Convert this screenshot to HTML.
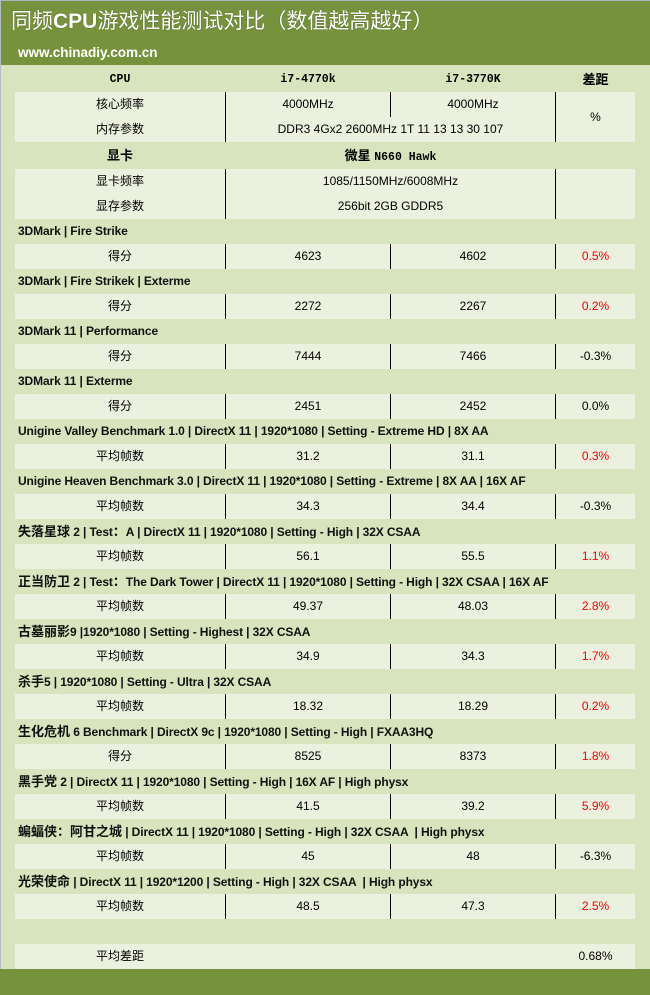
<!DOCTYPE html>
<html><head><meta charset="utf-8">
<style>
*{margin:0;padding:0;box-sizing:border-box}
html,body{width:650px;height:995px;overflow:hidden}
body{position:relative;background:#D7E4BD;font-family:"Liberation Sans","Noto Sans CJK SC",sans-serif;font-size:12px;color:#000}
.g{position:absolute;left:0;width:650px;background:#76923C}
.title{position:absolute;left:11px;top:9px;height:25px;line-height:25px;font-size:21px;color:#fff;white-space:nowrap;text-shadow:0 0 1px #3a4a1c}
.url{position:absolute;left:18px;top:40px;height:25px;line-height:25px;font-size:13.5px;font-weight:bold;color:#fff;white-space:nowrap}
.row{position:absolute;left:15px;width:620px;height:25px;background:#EBF1DE}
.c{position:absolute;top:0;height:25px;line-height:25px;text-align:center;white-space:nowrap}
.c0{left:0;width:210px}
.c1{left:211px;width:164px}
.c2{left:376px;width:164px}
.c3{left:541px;width:79px}
.c12{left:211px;width:329px}
.v{position:absolute;top:0;width:1px;height:25px;background:#000}
.red{color:#FF0000}
.sec{position:absolute;left:18px;height:25px;line-height:25px;font-weight:bold;color:#111;white-space:nowrap;letter-spacing:-0.12px}
.sec .k{font-size:13px;letter-spacing:0}
.hd{position:absolute;height:27px;line-height:27px;text-align:center;font-weight:bold;white-space:nowrap}
.m{font-family:"Liberation Mono",monospace;font-size:11.5px}
.k13{font-size:13px}
</style></head><body>
<div class="g" style="top:0;height:65px"></div>
<div style="position:absolute;left:0;top:0;width:650px;height:1px;background:#a9b2c0"></div>
<div style="position:absolute;left:0;top:0;width:1px;height:995px;background:#b4bcc8"></div>
<div class="title">同频<b>CPU</b>游戏性能测试对比（数值越高越好）</div>
<div class="url">www.chinadiy.com.cn</div>

<!-- header row -->
<div class="hd m" style="top:66px;left:15px;width:210px">CPU</div>
<div class="hd m" style="top:66px;left:226px;width:164px">i7-4770k</div>
<div class="hd m" style="top:66px;left:391px;width:164px">i7-3770K</div>
<div class="hd k13" style="top:66px;left:556px;width:79px">差距</div>

<!-- CPU block -->
<div class="row" style="top:92px;height:50px">
  <div class="c c0">核心频率</div>
  <div class="c c1">4000MHz</div>
  <div class="c c2">4000MHz</div>
  <div class="c c0" style="top:25px">内存参数</div>
  <div class="c c12" style="top:25px">DDR3 4Gx2 2600MHz 1T 11 13 13 30 107</div>
  <div class="c c3" style="height:50px;line-height:50px">%</div>
  <div class="v" style="left:210px;height:50px"></div>
  <div class="v" style="left:375px;height:25px"></div>
  <div class="v" style="left:540px;height:50px"></div>
</div>

<!-- GPU header -->
<div class="hd k13" style="top:142px;left:15px;width:210px">显卡</div>
<div class="hd k13" style="top:142px;left:226px;width:329px">微星 <span class="m">N660 Hawk</span></div>

<!-- GPU block -->
<div class="row" style="top:169px;height:50px">
  <div class="c c0">显卡频率</div>
  <div class="c c12">1085/1150MHz/6008MHz</div>
  <div class="c c0" style="top:25px">显存参数</div>
  <div class="c c12" style="top:25px">256bit 2GB GDDR5</div>
  <div class="v" style="left:210px;height:50px"></div>
  <div class="v" style="left:540px;height:50px"></div>
</div>

<div class="sec" style="top:219px">3DMark | Fire Strike</div>
<div class="row" style="top:244px"><div class="c c0">得分</div><div class="c c1">4623</div><div class="c c2">4602</div><div class="c c3 red">0.5%</div><div class="v" style="left:210px"></div><div class="v" style="left:375px"></div><div class="v" style="left:540px"></div></div>

<div class="sec" style="top:269px">3DMark | Fire Strikek | Exterme</div>
<div class="row" style="top:294px"><div class="c c0">得分</div><div class="c c1">2272</div><div class="c c2">2267</div><div class="c c3 red">0.2%</div><div class="v" style="left:210px"></div><div class="v" style="left:375px"></div><div class="v" style="left:540px"></div></div>

<div class="sec" style="top:319px">3DMark 11 | Performance</div>
<div class="row" style="top:344px"><div class="c c0">得分</div><div class="c c1">7444</div><div class="c c2">7466</div><div class="c c3">-0.3%</div><div class="v" style="left:210px"></div><div class="v" style="left:375px"></div><div class="v" style="left:540px"></div></div>

<div class="sec" style="top:369px">3DMark 11 | Exterme</div>
<div class="row" style="top:394px"><div class="c c0">得分</div><div class="c c1">2451</div><div class="c c2">2452</div><div class="c c3">0.0%</div><div class="v" style="left:210px"></div><div class="v" style="left:375px"></div><div class="v" style="left:540px"></div></div>

<div class="sec" style="top:419px">Unigine Valley Benchmark 1.0 | DirectX 11 | 1920*1080 | Setting - Extreme HD | 8X AA</div>
<div class="row" style="top:444px"><div class="c c0">平均帧数</div><div class="c c1">31.2</div><div class="c c2">31.1</div><div class="c c3 red">0.3%</div><div class="v" style="left:210px"></div><div class="v" style="left:375px"></div><div class="v" style="left:540px"></div></div>

<div class="sec" style="top:469px">Unigine Heaven Benchmark 3.0 | DirectX 11 | 1920*1080 | Setting - Extreme | 8X AA | 16X AF</div>
<div class="row" style="top:494px"><div class="c c0">平均帧数</div><div class="c c1">34.3</div><div class="c c2">34.4</div><div class="c c3">-0.3%</div><div class="v" style="left:210px"></div><div class="v" style="left:375px"></div><div class="v" style="left:540px"></div></div>

<div class="sec" style="top:519px"><span class="k">失落星球</span> 2 | Test<span class="k">：</span>A | DirectX 11 | 1920*1080 | Setting - High | 32X CSAA</div>
<div class="row" style="top:544px"><div class="c c0">平均帧数</div><div class="c c1">56.1</div><div class="c c2">55.5</div><div class="c c3 red">1.1%</div><div class="v" style="left:210px"></div><div class="v" style="left:375px"></div><div class="v" style="left:540px"></div></div>

<div class="sec" style="top:569px"><span class="k">正当防卫</span> 2 | Test<span class="k">：</span>The Dark Tower | DirectX 11 | 1920*1080 | Setting - High | 32X CSAA | 16X AF</div>
<div class="row" style="top:594px"><div class="c c0">平均帧数</div><div class="c c1">49.37</div><div class="c c2">48.03</div><div class="c c3 red">2.8%</div><div class="v" style="left:210px"></div><div class="v" style="left:375px"></div><div class="v" style="left:540px"></div></div>

<div class="sec" style="top:619px"><span class="k">古墓丽影</span>9 |1920*1080 | Setting - Highest | 32X CSAA</div>
<div class="row" style="top:644px"><div class="c c0">平均帧数</div><div class="c c1">34.9</div><div class="c c2">34.3</div><div class="c c3 red">1.7%</div><div class="v" style="left:210px"></div><div class="v" style="left:375px"></div><div class="v" style="left:540px"></div></div>

<div class="sec" style="top:669px"><span class="k">杀手</span>5 | 1920*1080 | Setting - Ultra | 32X CSAA</div>
<div class="row" style="top:694px"><div class="c c0">平均帧数</div><div class="c c1">18.32</div><div class="c c2">18.29</div><div class="c c3 red">0.2%</div><div class="v" style="left:210px"></div><div class="v" style="left:375px"></div><div class="v" style="left:540px"></div></div>

<div class="sec" style="top:719px"><span class="k">生化危机</span> 6 Benchmark | DirectX 9c | 1920*1080 | Setting - High | FXAA3HQ</div>
<div class="row" style="top:744px"><div class="c c0">得分</div><div class="c c1">8525</div><div class="c c2">8373</div><div class="c c3 red">1.8%</div><div class="v" style="left:210px"></div><div class="v" style="left:375px"></div><div class="v" style="left:540px"></div></div>

<div class="sec" style="top:769px"><span class="k">黑手党</span> 2 | DirectX 11 | 1920*1080 | Setting - High | 16X AF | High physx</div>
<div class="row" style="top:794px"><div class="c c0">平均帧数</div><div class="c c1">41.5</div><div class="c c2">39.2</div><div class="c c3 red">5.9%</div><div class="v" style="left:210px"></div><div class="v" style="left:375px"></div><div class="v" style="left:540px"></div></div>

<div class="sec" style="top:819px"><span class="k">蝙蝠侠：阿甘之城</span> | DirectX 11 | 1920*1080 | Setting - High | 32X CSAA &nbsp;| High physx</div>
<div class="row" style="top:844px"><div class="c c0">平均帧数</div><div class="c c1">45</div><div class="c c2">48</div><div class="c c3">-6.3%</div><div class="v" style="left:210px"></div><div class="v" style="left:375px"></div><div class="v" style="left:540px"></div></div>

<div class="sec" style="top:869px"><span class="k">光荣使命</span> | DirectX 11 | 1920*1200 | Setting - High | 32X CSAA &nbsp;| High physx</div>
<div class="row" style="top:894px"><div class="c c0">平均帧数</div><div class="c c1">48.5</div><div class="c c2">47.3</div><div class="c c3 red">2.5%</div><div class="v" style="left:210px"></div><div class="v" style="left:375px"></div><div class="v" style="left:540px"></div></div>

<div class="row" style="top:944px"><div class="c c0">平均差距</div><div class="c c3">0.68%</div></div>

<div class="g" style="top:969px;height:26px"></div>
</body></html>
